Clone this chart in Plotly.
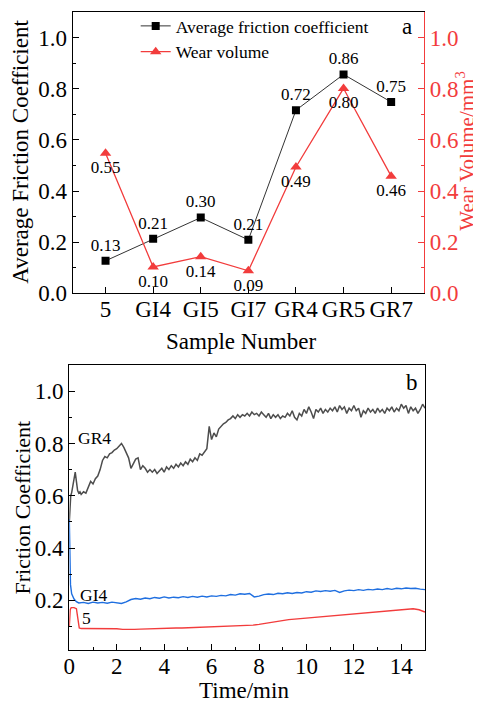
import plotly.graph_objects as go

# ---------------- Panel a data ----------------
samples = ["5", "GI4", "GI5", "GI7", "GR4", "GR5", "GR7"]
avg_friction = [0.127, 0.213, 0.296, 0.209, 0.716, 0.856, 0.748]
wear_volume = [0.548, 0.103, 0.143, 0.088, 0.494, 0.801, 0.458]

# ---------------- Panel b data ----------------
gr4_time = [0.0, 0.03, 0.06, 0.1, 0.15, 0.2, 0.25, 0.3, 0.35, 0.4, 0.45] + \
    [round(0.1 * i, 1) for i in range(5, 151)]
gr4_cof = [0.50, 0.58, 0.60, 0.612, 0.64, 0.675, 0.69, 0.655, 0.62, 0.61, 0.615,
           # 0.5 .. 0.9
           0.605, 0.615, 0.61, 0.63, 0.655,
           # 1.0 .. 1.9
           0.645, 0.665, 0.675, 0.70, 0.735, 0.75, 0.745, 0.76, 0.765, 0.775,
           # 2.0 .. 2.9
           0.78, 0.79, 0.80, 0.785, 0.765, 0.745, 0.705, 0.725, 0.74, 0.745,
           # 3.0 .. 3.9
           0.70, 0.715, 0.705, 0.69, 0.70, 0.69, 0.70, 0.685, 0.695, 0.705,
           # 4.0 .. 4.9
           0.69, 0.71, 0.70, 0.715, 0.705, 0.72, 0.71, 0.725, 0.715, 0.73,
           # 5.0 .. 5.9
           0.72, 0.74, 0.73, 0.745, 0.735, 0.76, 0.755, 0.77, 0.78, 0.865,
           # 6.0 .. 6.9
           0.815, 0.84, 0.825, 0.855, 0.865, 0.875, 0.88, 0.89, 0.895, 0.905,
           # 7.0 .. 7.9
           0.895, 0.91, 0.90, 0.91, 0.905, 0.915, 0.905, 0.92, 0.91, 0.915,
           # 8.0 .. 8.9
           0.905, 0.92, 0.91, 0.90, 0.915, 0.895, 0.91, 0.90, 0.91, 0.895,
           # 9.0 .. 9.9
           0.905, 0.90, 0.915, 0.905, 0.925, 0.90, 0.89, 0.915, 0.905, 0.93,
           # 10.0 .. 10.9
           0.915, 0.94, 0.92, 0.895, 0.93, 0.92, 0.935, 0.915, 0.93, 0.92,
           # 11.0 .. 11.9
           0.935, 0.925, 0.94, 0.92, 0.945, 0.93, 0.94, 0.915, 0.935, 0.925,
           # 12.0 .. 12.9
           0.945, 0.925, 0.935, 0.90, 0.925, 0.915, 0.935, 0.92, 0.93, 0.915,
           # 13.0 .. 13.9
           0.935, 0.92, 0.93, 0.915, 0.935, 0.925, 0.94, 0.92, 0.935, 0.925,
           # 14.0 .. 15.0
           0.95, 0.935, 0.945, 0.915, 0.94, 0.925, 0.935, 0.915, 0.93, 0.95, 0.935]

gi4_time = [0.0, 0.02, 0.05, 0.1, 0.2, 0.3, 0.4] + [round(0.2 * i, 1) for i in range(3, 76)]
gi4_cof = [0.51, 0.40, 0.26, 0.225, 0.205, 0.195, 0.19,
           0.192, 0.188, 0.193, 0.19, 0.192, 0.189, 0.193, 0.19, 0.188, 0.194,
           0.203, 0.207, 0.204, 0.209, 0.206, 0.211, 0.208, 0.213, 0.209, 0.212,
           0.21, 0.214, 0.211, 0.215, 0.212, 0.216, 0.213, 0.217, 0.215, 0.219,
           0.217, 0.222, 0.22, 0.225, 0.223, 0.226, 0.213, 0.216, 0.222, 0.224,
           0.222, 0.227, 0.225, 0.229, 0.226, 0.23, 0.228, 0.233, 0.231, 0.236,
           0.234, 0.237, 0.235, 0.238, 0.23, 0.236, 0.239, 0.237, 0.241, 0.238,
           0.242, 0.24, 0.243, 0.241, 0.245, 0.242, 0.246, 0.244, 0.247, 0.245,
           0.246, 0.243, 0.241]

s5_time = [0.0, 0.04, 0.08, 0.2, 0.3, 0.36, 0.42, 0.5] + [round(0.25 * i, 2) for i in range(3, 61)]
s5_cof = [0.10, 0.165, 0.172, 0.172, 0.168, 0.12, 0.094, 0.092,
          0.092, 0.091, 0.092, 0.091, 0.090, 0.091, 0.089, 0.088, 0.089, 0.090,
          0.091, 0.090, 0.091, 0.092, 0.093, 0.094, 0.094, 0.095, 0.096, 0.097,
          0.097, 0.098, 0.099, 0.099, 0.100, 0.101, 0.102, 0.103, 0.105, 0.108,
          0.112, 0.116, 0.120, 0.123, 0.126, 0.128, 0.130, 0.132, 0.134, 0.136,
          0.139, 0.141, 0.143, 0.145, 0.147, 0.149, 0.151, 0.154, 0.156, 0.158,
          0.159, 0.161, 0.163, 0.164, 0.166, 0.168, 0.164, 0.155]

FONT = "Liberation Serif"
RED = "#f23c3c"
OFF = 8                  # page body margin of the html page
W, H = 481 - OFF, 705 - OFF


def px(x):
    return (x - OFF) / W


def py(y):
    return 1 - (y - OFF) / H


fig = go.Figure()

# Panel a
fig.add_trace(go.Scatter(
    x=samples, y=avg_friction, mode="lines+markers+text", name="Average friction coefficient",
    line=dict(color="#333333", width=1),
    marker=dict(symbol="square", size=8, color="black"),
    texttemplate="%{y:.2f}", textposition="top center",
    textfont=dict(family=FONT, size=17, color="black"),
    xaxis="x", yaxis="y"))
fig.add_trace(go.Scatter(
    x=samples, y=wear_volume, mode="lines+markers+text", name="Wear volume",
    line=dict(color=RED, width=1.3),
    marker=dict(symbol="triangle-up", size=10, color=RED),
    texttemplate="%{y:.2f}", textposition="bottom center",
    textfont=dict(family=FONT, size=17, color="black"),
    xaxis="x", yaxis="y2"))

# Panel b
fig.add_trace(go.Scatter(x=gr4_time, y=gr4_cof, mode="lines", showlegend=False,
                         line=dict(color="#4d4d4d", width=1.5), xaxis="x2", yaxis="y3"))
fig.add_trace(go.Scatter(x=gi4_time, y=gi4_cof, mode="lines", showlegend=False,
                         line=dict(color="#1f6fe0", width=1.4), xaxis="x2", yaxis="y3"))
fig.add_trace(go.Scatter(x=s5_time, y=s5_cof, mode="lines", showlegend=False,
                         line=dict(color=RED, width=1.4), xaxis="x2", yaxis="y3"))

TS = 23
tickfont = dict(family=FONT, size=TS, color="black")
common_line = dict(showline=True, linecolor="black", linewidth=1.2, showgrid=False,
                   zeroline=False, automargin=False)

fig.update_layout(
    width=W, height=H,
    margin=dict(l=0, r=0, t=0, b=0),
    paper_bgcolor="white", plot_bgcolor="white",
    font=dict(family=FONT, color="black"),
    xaxis=dict(domain=[px(72.7), px(424)], anchor="y", type="category",
               range=[-0.69, 6.69], mirror=True, ticks="inside", ticklen=6,
               tickcolor="black", tickfont=tickfont, ticklabelstandoff=-5, **common_line),
    yaxis=dict(domain=[py(293.3), py(12)], anchor="x", range=[0, 1.1],
               dtick=0.2, tick0=0, tickformat=".1f", ticks="inside", ticklen=6,
               tickcolor="black", tickfont=tickfont,
               minor=dict(ticks="inside", ticklen=3, dtick=0.1, tick0=0, tickcolor="black"),
               **common_line),
    yaxis2=dict(overlaying="y", side="right", anchor="x", range=[0, 1.1],
                dtick=0.2, tick0=0, tickformat=".1f", ticks="inside", ticklen=6,
                tickcolor=RED, tickfont=dict(family=FONT, size=TS, color=RED),
                minor=dict(ticks="inside", ticklen=3, dtick=0.1, tick0=0, tickcolor=RED),
                showline=True, linecolor=RED, linewidth=1.2, showgrid=False,
                zeroline=False, automargin=False),
    xaxis2=dict(domain=[px(69.3), px(425)], anchor="y3", range=[0, 15],
                dtick=2, tick0=0, ticks="inside", ticklen=6, tickcolor="black",
                tickfont=tickfont, mirror=True, ticklabelstandoff=-5,
                minor=dict(ticks="inside", ticklen=3, dtick=1, tick0=0, tickcolor="black"),
                **common_line),
    yaxis3=dict(domain=[py(650), py(365)], anchor="x2", range=[0.01, 1.1],
                dtick=0.2, tick0=0, tickformat=".1f", ticks="inside", ticklen=6,
                tickcolor="black", tickfont=tickfont, mirror=True,
                minor=dict(ticks="inside", ticklen=3, dtick=0.1, tick0=0, tickcolor="black"),
                **common_line),
    legend=dict(x=px(135.7), y=1.0, xanchor="left", yanchor="top",
                bgcolor="rgba(0,0,0,0)", font=dict(family=FONT, size=17.5, color="black"),
                tracegroupgap=0),
    showlegend=True,
)

ann = [
    dict(text="Average Friction Coefficient", x=px(21), y=py(151.7), textangle=-90, size=TS, color="black"),
    dict(text="Wear Volume/mm<sup>3</sup>", x=px(466), y=py(151.7), textangle=-90, size=21, color=RED),
    dict(text="Sample Number", x=px(241), y=py(341.7), textangle=0, size=TS, color="black"),
    dict(text="Friction Coefficient", x=px(21.5), y=py(508), textangle=-90, size=22, color="black"),
    dict(text="Time/min", x=px(244), y=py(690), textangle=0, size=TS, color="black"),
    dict(text="a", x=px(406.7), y=py(26.7), textangle=0, size=TS, color="black"),
    dict(text="b", x=px(412), y=py(382), textangle=0, size=TS, color="black"),
]
for a in ann:
    fig.add_annotation(text=a["text"], x=a["x"], y=a["y"], xref="paper", yref="paper",
                       xanchor="center", yanchor="middle", showarrow=False,
                       textangle=a["textangle"],
                       font=dict(family=FONT, size=a["size"], color=a["color"]))

for txt, tx, ty in [("GR4", 1.08, 0.82), ("GI4", 1.04, 0.222), ("5", 0.745, 0.134)]:
    fig.add_annotation(text=txt, x=tx, y=ty, xref="x2", yref="y3", showarrow=False,
                       xanchor="center", yanchor="middle",
                       font=dict(family=FONT, size=17.5, color="black"))

fig.write_html("out.html")
